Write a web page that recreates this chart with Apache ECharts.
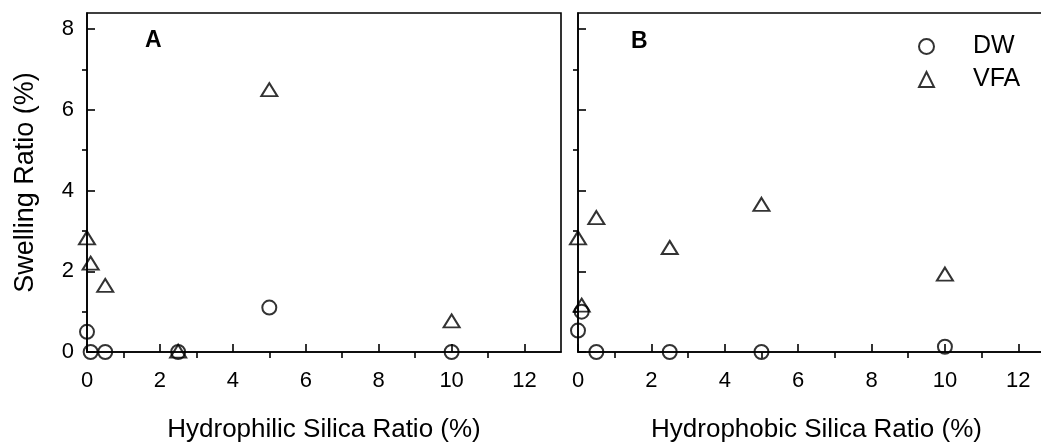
<!DOCTYPE html>
<html>
<head>
<meta charset="utf-8">
<script src="https://cdn.jsdelivr.net/npm/echarts@6/dist/echarts.min.js"></script>
<style>
html,body{margin:0;padding:0;background:#fff;}
#chart{width:1041px;height:442px;}
</style>
</head>
<body>
<div id="chart"></div>
<script>
// ---- data ----
const xA = [0, 0.1, 0.5, 2.5, 5, 10];
const dwA = [0.5, 0, 0, 0, 1.1, 0];
const xAv = [0, 0.1, 0.5, 2.5, 5, 10];
const vfaA = [2.83, 2.2, 1.65, 0.02, 6.5, 0.77];
const xB = [0, 0.1, 0.5, 2.5, 5, 10];
const dwB = [0.53, 1.0, 0, 0, 0, 0.13];
const xBv = [0, 0.1, 0.5, 2.5, 5, 10];
const vfaB = [2.83, 1.16, 3.33, 2.59, 3.66, 1.93];
const xMajor = [0, 2, 4, 6, 8, 10, 12];
const xMinor = [1, 3, 5, 7, 9, 11];
const yMajor = [0, 2, 4, 6, 8];
const yMinor = [1, 3, 5, 7];
const xTitles = ['Hydrophilic Silica Ratio (%)', 'Hydrophobic Silica Ratio (%)'];
const yTitle = 'Swelling Ratio (%)';
const panelLabels = ['A', 'B'];
const seriesNames = ['DW', 'VFA'];

const FONT = 'Liberation Sans, Arial, Helvetica, sans-serif';
const pairs = (xs, ys) => xs.map((x, i) => [x, ys[i]]);

const chart = echarts.init(document.getElementById('chart'));

function xAxisMajor(gi, title) {
  return {
    type: 'value', gridIndex: gi, min: 0, max: 13,
    axisLine: { show: true, onZero: false, lineStyle: { color: '#000', width: 1.6 } },
    axisTick: { show: true, inside: true, length: 8, customValues: xMajor, lineStyle: { color: '#000', width: 1.6 } },
    axisLabel: { show: true, customValues: xMajor, margin: 18, fontSize: 22, color: '#000', fontFamily: FONT },
    splitLine: { show: false },
    name: title, nameLocation: 'middle', nameGap: 65,
    nameTextStyle: { fontSize: 26, color: '#000', fontFamily: FONT }
  };
}
function xAxisMinor(gi) {
  return {
    type: 'value', gridIndex: gi, min: 0, max: 13,
    axisLine: { show: false },
    axisTick: { show: true, inside: true, length: 6, customValues: xMinor, lineStyle: { color: '#000', width: 1.6 } },
    axisLabel: { show: false }, splitLine: { show: false }
  };
}
function yAxisMajor(gi, showLabels, title) {
  return {
    type: 'value', gridIndex: gi, min: 0, max: 8.4,
    axisLine: { show: true, onZero: false, lineStyle: { color: '#000', width: 1.6 } },
    axisTick: { show: true, inside: true, length: 8, customValues: yMajor, lineStyle: { color: '#000', width: 1.6 } },
    axisLabel: { show: showLabels, customValues: yMajor, margin: 13, fontSize: 22, color: '#000', fontFamily: FONT },
    splitLine: { show: false },
    name: title || '', nameLocation: 'middle', nameGap: 48,
    nameTextStyle: { fontSize: 27, color: '#000', fontFamily: FONT }
  };
}
function yAxisMinor(gi) {
  return {
    type: 'value', gridIndex: gi, min: 0, max: 8.4,
    axisLine: { show: false },
    axisTick: { show: true, inside: true, length: 5, customValues: yMinor, lineStyle: { color: '#000', width: 1.6 } },
    axisLabel: { show: false }, splitLine: { show: false }
  };
}

const markerStyle = { color: 'rgba(255,255,255,0)', borderColor: '#000', borderWidth: 2 };

function scatter(name, xi, yi, data, symbol, size) {
  return {
    name: name, type: 'scatter', xAxisIndex: xi, yAxisIndex: yi,
    data: data, symbol: symbol, symbolSize: size, clip: false,
    itemStyle: markerStyle, emphasis: { disabled: true }, z: 5
  };
}

const option = {
  animation: false,
  backgroundColor: '#fff',
  grid: [
    { left: 87, top: 13, width: 474, height: 339, show: true, borderColor: '#000', borderWidth: 1.6, backgroundColor: 'transparent', outerBoundsMode: 'none', containLabel: false },
    { left: 578, top: 13, width: 477, height: 339, show: true, borderColor: '#000', borderWidth: 1.6, backgroundColor: 'transparent', outerBoundsMode: 'none', containLabel: false }
  ],
  xAxis: [
    xAxisMajor(0, xTitles[0]), xAxisMinor(0),
    xAxisMajor(1, xTitles[1]), xAxisMinor(1)
  ],
  yAxis: [
    yAxisMajor(0, true, yTitle), yAxisMinor(0),
    yAxisMajor(1, false, ''), yAxisMinor(1)
  ],
  legend: {
    data: seriesNames,
    orient: 'vertical', left: 918, top: 34, padding: 0,
    itemWidth: 15, itemHeight: 15, itemGap: 8,
    textStyle: { fontSize: 25, color: '#000', fontFamily: FONT, padding: [0, 0, 0, 34] },
    selectedMode: false
  },
  graphic: [
    { type: 'text', left: 145, top: 29, style: { text: panelLabels[0], font: 'bold 23px ' + FONT, fill: '#000' } },
    { type: 'text', left: 631, top: 30, style: { text: panelLabels[1], font: 'bold 23px ' + FONT, fill: '#000' } }
  ],
  series: [
    scatter(seriesNames[0], 0, 0, pairs(xA, dwA), 'circle', 14),
    scatter(seriesNames[1], 0, 0, pairs(xAv, vfaA), 'triangle', [16, 13]),
    scatter(seriesNames[0], 2, 2, pairs(xB, dwB), 'circle', 14),
    scatter(seriesNames[1], 2, 2, pairs(xBv, vfaB), 'triangle', [16, 13])
  ]
};
chart.setOption(option);
</script>
</body>
</html>
